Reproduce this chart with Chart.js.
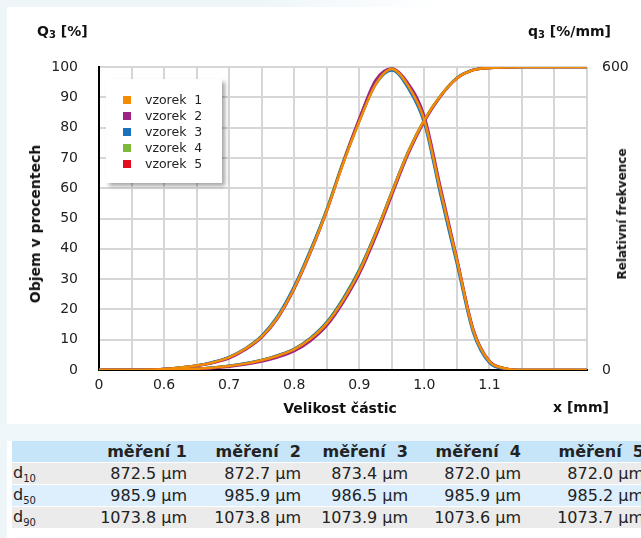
<!DOCTYPE html>
<html>
<head>
<meta charset="utf-8">
<script src="https://cdn.jsdelivr.net/npm/chart.js@4/dist/chart.umd.min.js"></script>
<style>
  body { margin: 0; width: 641px; height: 538px; position: relative; overflow: hidden; background: #fff; font-family: "DejaVu Sans", Verdana, sans-serif; color: #222; }
  .strip-left { position: absolute; left: 0; top: 0; width: 7px; height: 538px; background: #eef6fa; }
  .strip-top { position: absolute; left: 0; top: 0; width: 440px; height: 7px; background: linear-gradient(to right, #eef6fa 60%, #fff); }
  .strip-gap { position: absolute; left: 0; top: 424px; width: 641px; height: 17px; background: #f0f7fb; }
  #chart { position: absolute; left: 0; top: 0; }
  .lbl { position: absolute; font-weight: bold; white-space: nowrap; color: #111; }
  .lbl .s { font-size: 10px; position: relative; top: 2px; }
  .rot { transform: translate(-50%, -50%) rotate(-90deg); }
  #legend { position: absolute; left: 106px; top: 79px; width: 116px; height: 104px; background: #fff; box-shadow: 3px 3px 4px rgba(0,0,0,0.35); }
  #legend div { position: absolute; left: 17px; font-size: 12.5px; line-height: 16px; white-space: pre; }
  #legend span { display: inline-block; width: 8px; height: 8px; margin-right: 14px; vertical-align: 0px; }
  .tblwrap { position: absolute; left: 12px; top: 441px; width: 629px; height: 97px; overflow: hidden; }
  table { border-collapse: collapse; table-layout: fixed; width: 633px; font-size: 16px; }
  td, th { padding: 0 1px 0 0; height: 21px; border-bottom: 1px solid #fff; text-align: right; white-space: pre; }
  th { font-weight: bold; background: #c6e5f8; }
  tr.g td { background: #ebebeb; }
  tr.b td { background: #ddeffc; }
  td.n { text-align: left; padding-left: 1px; }
  sub { font-size: 10px; vertical-align: -4px; }
</style>
</head>
<body>
<div class="strip-left"></div>
<div class="strip-top"></div>
<div class="strip-gap"></div>
<canvas id="chart" width="641" height="424"></canvas>

<div class="lbl" style="left:37px; top:23px; font-size:14px;">Q<span class="s">3</span> [%]</div>
<div class="lbl" style="left:528px; top:23px; font-size:14px;">q<span class="s">3</span> [%/mm]</div>
<div class="lbl rot" style="left:35px; top:224px; font-size:14px;">Objem v procentech</div>
<div class="lbl rot" style="left:622px; top:214px; font-size:12px;">Relativní frekvence</div>
<div class="lbl" style="left:340px; top:408px; font-size:14px; transform: translate(-50%, -50%);">Velikost částic</div>
<div class="lbl" style="left:553px; top:399px; font-size:14px;">x [mm]</div>

<div id="legend"></div>

<div class="tblwrap">
<table>
  <colgroup>
    <col style="width:88px"><col style="width:88px"><col style="width:114px"><col style="width:107px"><col style="width:113px"><col style="width:123px">
  </colgroup>
  <thead id="thead"></thead>
  <tbody id="tbody"></tbody>
</table>
</div>

<script>
// particle size [mm]
const sizes = [0.500, 0.525, 0.550, 0.575, 0.600, 0.625, 0.650, 0.675, 0.700, 0.725,
               0.750, 0.775, 0.800, 0.825, 0.850, 0.875, 0.900, 0.925, 0.950, 0.975,
               1.000, 1.025, 1.050, 1.075, 1.100, 1.125, 1.150, 1.175, 1.200, 1.225, 1.250];

const samples = ['vzorek  1', 'vzorek  2', 'vzorek  3', 'vzorek  4', 'vzorek  5'];
const colors = ['#f28c00', '#9b2587', '#1a73ba', '#7db93a', '#e30d1b'];

// cumulative distribution Q3 [%]
const cum1 = [0, 0, 0, 0, 0.1, 0.2, 0.4, 0.75, 1.3, 2.1, 3.2, 4.7, 6.8, 10.3, 15.4, 23.0, 32.5, 44.8, 58.5, 71.8, 82.5, 90.5, 96.3, 99.0, 99.7, 99.9, 100, 100, 100, 100, 100];
const cum2 = [0, 0, 0, 0, 0.1, 0.2, 0.3, 0.6, 1.1, 1.8, 2.8, 4.2, 6.2, 9.6, 14.6, 22.2, 31.6, 43.8, 57.6, 71.1, 82.0, 90.3, 96.2, 99.0, 99.7, 99.9, 100, 100, 100, 100, 100];
const cum3 = [0, 0, 0, 0, 0.1, 0.2, 0.4, 0.8, 1.4, 2.2, 3.3, 4.9, 7.0, 10.6, 15.8, 23.5, 33.0, 45.1, 58.7, 71.9, 82.4, 90.5, 96.5, 99.1, 99.8, 100, 100, 100, 100, 100, 100];
const cum4 = [0, 0, 0, 0, 0.1, 0.2, 0.4, 0.8, 1.4, 2.2, 3.3, 4.8, 7.0, 10.6, 15.8, 23.6, 33.2, 45.2, 58.8, 72.1, 82.6, 90.6, 96.4, 99.0, 99.7, 99.9, 100, 100, 100, 100, 100];
const cum5 = [0, 0, 0, 0, 0.1, 0.2, 0.4, 0.75, 1.3, 2.1, 3.2, 4.7, 6.9, 10.4, 15.5, 23.1, 32.6, 44.9, 58.5, 71.8, 82.5, 90.5, 96.3, 99.0, 99.7, 99.9, 100, 100, 100, 100, 100];

// density distribution q3 [%/mm]
const dens1 = [0, 0, 0, 0.5, 2, 5, 9, 15, 25, 42, 66, 105, 162, 234, 315, 408, 492, 565, 596, 563, 495, 354, 218, 79, 17, 3, 0, 0, 0, 0, 0];
const dens2 = [0, 0, 0, 0.5, 2, 4, 8, 14, 23, 40, 64, 103, 160, 232, 314, 410, 498, 574, 597, 568, 503, 362, 222, 82, 18, 3, 0, 0, 0, 0, 0];
const dens3 = [0, 0, 0, 0.5, 2, 5, 9, 16, 26, 43, 68, 108, 166, 238, 318, 410, 493, 565, 593, 558, 488, 345, 210, 74, 14, 2, 0, 0, 0, 0, 0];
const dens4 = [0, 0, 0, 0.5, 2, 5, 9, 15, 25, 42, 67, 106, 164, 237, 319, 413, 497, 570, 597, 562, 494, 352, 216, 78, 16, 3, 0, 0, 0, 0, 0];
const dens5 = [0, 0, 0, 0.5, 2, 5, 9, 15, 25, 42, 66, 105, 162, 235, 316, 409, 493, 566, 596, 563, 495, 355, 219, 80, 17, 3, 0, 0, 0, 0, 0];

// table
const measurements = ['měření 1', 'měření  2', 'měření  3', 'měření  4', 'měření  5'];
const d10 = [872.5, 872.7, 873.4, 872.0, 872.0];
const d50 = [985.9, 985.9, 986.5, 985.9, 985.2];
const d90 = [1073.8, 1073.8, 1073.9, 1073.6, 1073.7];

const cums = [cum1, cum2, cum3, cum4, cum5];
const denss = [dens1, dens2, dens3, dens4, dens5];

// legend
const legend = document.getElementById('legend');
samples.forEach((name, i) => {
    const row = document.createElement('div');
    row.style.top = (13 + i * 16) + 'px';
    row.innerHTML = '<span style="background:' + colors[i] + '"></span>' + name;
    legend.appendChild(row);
});

// table rows
document.getElementById('thead').innerHTML = '<tr><th></th>' + measurements.map(m => '<th>' + m + '</th>').join('') + '</tr>';
const rows = [['d<sub>10</sub>', d10, 'g'], ['d<sub>50</sub>', d50, 'b'], ['d<sub>90</sub>', d90, 'g']];
document.getElementById('tbody').innerHTML = rows.map(r =>
    '<tr class="' + r[2] + '"><td class="n">' + r[0] + '</td>' +
    r[1].map(v => '<td>' + v.toFixed(1) + ' µm</td>').join('') + '</tr>').join('');

// datasets: first one is drawn on top
const datasets = [];
samples.forEach((name, i) => {
    datasets.push({
        label: name,
        data: sizes.map((x, k) => ({ x: x, y: cums[i][k] })),
        yAxisID: 'y',
        borderColor: colors[i],
        borderWidth: 2.5,
        pointRadius: 0,
        cubicInterpolationMode: 'monotone',
        fill: false
    });
    datasets.push({
        label: name + ' q3',
        data: sizes.map((x, k) => ({ x: x, y: denss[i][k] })),
        yAxisID: 'y1',
        borderColor: colors[i],
        borderWidth: 2.5,
        pointRadius: 0,
        cubicInterpolationMode: 'monotone',
        fill: false
    });
});

const tickFont = { family: 'DejaVu Sans', size: 14 };
const gridColor = '#d6d6d6';

new Chart(document.getElementById('chart').getContext('2d'), {
    type: 'line',
    data: { datasets: datasets },
    options: {
        responsive: false,
        animation: false,
        events: [],
        layout: { padding: { top: 67, left: 0, right: 0, bottom: 0 } },
        plugins: { legend: { display: false }, tooltip: { enabled: false } },
        scales: {
            x: {
                type: 'linear',
                min: 0.5,
                max: 1.25,
                afterFit: s => { s.height = 54; },
                grid: { color: gridColor, lineWidth: 2, drawTicks: false },
                border: { color: '#000', width: 2 },
                ticks: {
                    stepSize: 0.05,
                    autoSkip: false,
                    maxRotation: 0,
                    padding: 7,
                    color: '#222',
                    font: tickFont,
                    callback: function(value) {
                        const v = Math.round(value * 100);
                        if (v === 50) return '0';
                        if (v % 10 === 0 && v <= 110) return (v / 100).toFixed(1);
                        return '';
                    }
                }
            },
            y: {
                position: 'left',
                min: 0,
                max: 100,
                afterFit: s => { s.width = 99; },
                grid: { color: gridColor, lineWidth: 2, drawTicks: false },
                border: { color: '#000', width: 2 },
                ticks: { stepSize: 10, padding: 21, color: '#222', font: tickFont }
            },
            y1: {
                position: 'right',
                min: 0,
                max: 600,
                afterFit: s => { s.width = 54; },
                grid: { display: false, drawTicks: false },
                border: { display: false },
                ticks: { stepSize: 600, padding: 15, color: '#222', font: tickFont }
            }
        }
    }
});
</script>
</body>
</html>
